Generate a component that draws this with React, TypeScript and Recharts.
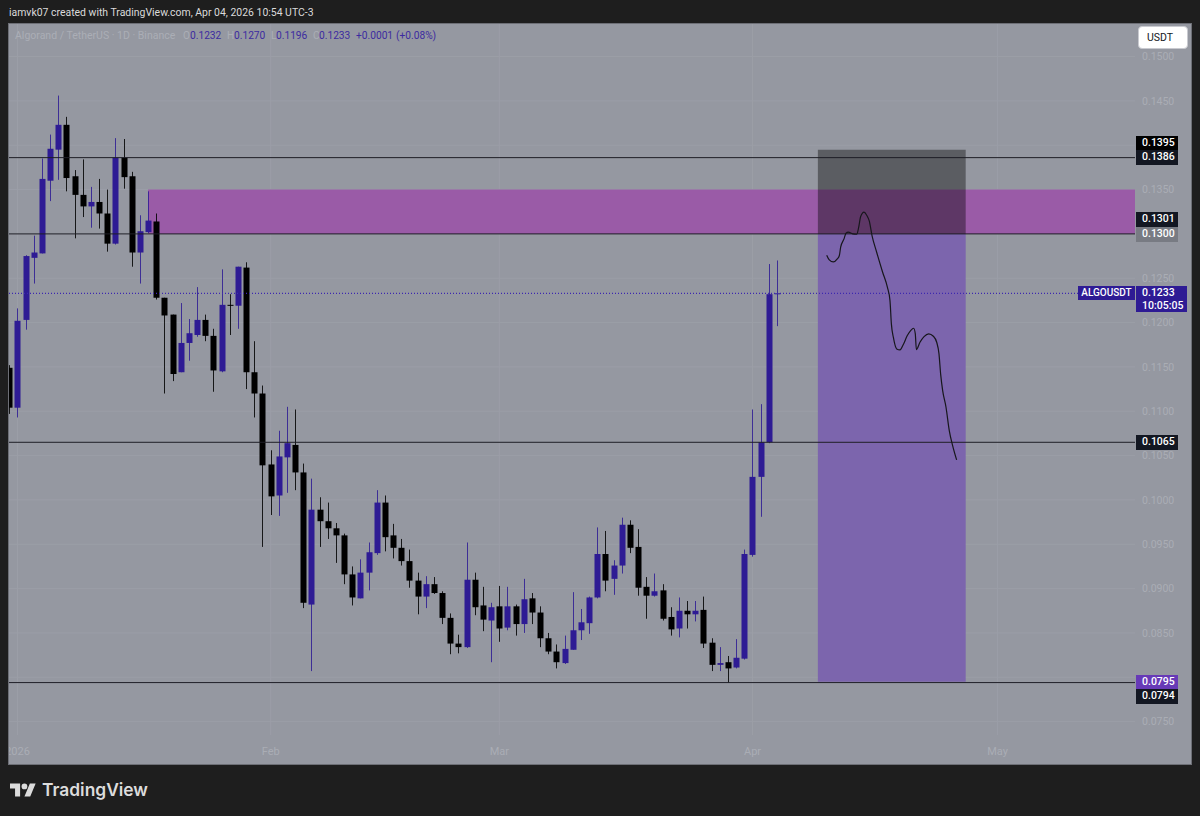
import { Bar, CartesianGrid, ComposedChart, Line, ReferenceArea, ReferenceLine, XAxis, YAxis } from 'recharts';

const opens = [
  0.1149, 0.1104, 0.1203, 0.1273, 0.1278, 0.136, 0.1395, 0.1423, 0.1365, 0.1344, 0.1331, 0.1336, 0.1323, 0.1289, 0.1386, 0.1365,
  0.1279, 0.1302, 0.1314, 0.1228, 0.1209, 0.1144, 0.1177, 0.1186, 0.1203, 0.1185, 0.1145, 0.122, 0.1219, 0.1262, 0.1144, 0.112,
  0.104, 0.1005, 0.1048, 0.1062, 0.1031, 0.0882, 0.0989, 0.0976, 0.0968, 0.096, 0.0916, 0.0889, 0.0918, 0.094, 0.0997, 0.096,
  0.0946, 0.0931, 0.0909, 0.0891, 0.0905, 0.0895, 0.0867, 0.0838, 0.0834, 0.091, 0.0881, 0.0864, 0.088, 0.0856, 0.088, 0.086,
  0.0889, 0.0873, 0.0844, 0.0829, 0.0816, 0.0831, 0.0853, 0.0861, 0.089, 0.0939, 0.0911, 0.0926, 0.0972, 0.0947, 0.0902, 0.0892,
  0.0898, 0.0868, 0.0855, 0.0875, 0.0871, 0.0876, 0.0839, 0.0814, 0.0817, 0.0811, 0.0821, 0.0938, 0.1026, 0.1065, 0.1232,
];
const highs = [
  0.1152, 0.1216, 0.1276, 0.1298, 0.1385, 0.1412, 0.1456, 0.1432, 0.1372, 0.1384, 0.1353, 0.1362, 0.135, 0.1408, 0.1407, 0.137,
  0.1321, 0.1348, 0.1323, 0.1228, 0.1209, 0.1222, 0.1204, 0.124, 0.1209, 0.1193, 0.126, 0.1232, 0.1263, 0.1268, 0.1179, 0.1129,
  0.1056, 0.1078, 0.1105, 0.1102, 0.1041, 0.1024, 0.1003, 0.0997, 0.0974, 0.0962, 0.0925, 0.0933, 0.0952, 0.1011, 0.1005, 0.0973,
  0.0956, 0.0944, 0.0918, 0.0914, 0.0913, 0.0897, 0.0872, 0.0848, 0.0952, 0.0918, 0.0902, 0.0884, 0.0903, 0.0902, 0.0882, 0.0911,
  0.0895, 0.088, 0.085, 0.0837, 0.0847, 0.0896, 0.0877, 0.0891, 0.0969, 0.0965, 0.0932, 0.098, 0.0977, 0.0967, 0.0913, 0.0917,
  0.0905, 0.0879, 0.089, 0.0886, 0.0886, 0.0891, 0.0844, 0.0834, 0.0824, 0.0843, 0.0944, 0.1102, 0.1108, 0.1266, 0.127,
];
const lows = [
  0.1097, 0.1093, 0.1192, 0.1244, 0.1278, 0.1337, 0.1361, 0.1348, 0.1295, 0.1319, 0.1307, 0.1306, 0.128, 0.1288, 0.1351, 0.1263,
  0.1244, 0.1301, 0.1226, 0.112, 0.1134, 0.1144, 0.1157, 0.1184, 0.1179, 0.1122, 0.1144, 0.1186, 0.1193, 0.1125, 0.1093, 0.0947,
  0.0983, 0.0982, 0.1008, 0.1011, 0.0878, 0.0807, 0.0947, 0.0956, 0.0929, 0.0905, 0.0881, 0.0889, 0.0898, 0.0938, 0.0942, 0.0934,
  0.0926, 0.0901, 0.0871, 0.0878, 0.0894, 0.086, 0.0826, 0.0827, 0.0833, 0.087, 0.0852, 0.0817, 0.084, 0.0853, 0.0847, 0.085,
  0.086, 0.0834, 0.0826, 0.081, 0.0815, 0.0831, 0.0842, 0.0849, 0.0889, 0.0897, 0.0893, 0.0917, 0.094, 0.0892, 0.0866, 0.0891,
  0.0864, 0.0847, 0.0845, 0.0855, 0.0863, 0.0833, 0.0807, 0.0807, 0.0794, 0.081, 0.082, 0.0936, 0.0981, 0.1064, 0.1196,
];
const closes = [
  0.1104, 0.1202, 0.1275, 0.1279, 0.1362, 0.1396, 0.1423, 0.1363, 0.1344, 0.1331, 0.1336, 0.1323, 0.1289, 0.1386, 0.1364, 0.1279,
  0.1303, 0.1315, 0.1228, 0.1208, 0.1142, 0.1177, 0.1188, 0.1203, 0.1185, 0.1146, 0.122, 0.1219, 0.1263, 0.1144, 0.112, 0.1039,
  0.1004, 0.1049, 0.1064, 0.1031, 0.0884, 0.0989, 0.0976, 0.0968, 0.096, 0.0916, 0.089, 0.0918, 0.0941, 0.0997, 0.0958, 0.0946,
  0.0931, 0.0909, 0.0891, 0.0905, 0.0895, 0.0867, 0.0838, 0.0834, 0.091, 0.0879, 0.0865, 0.0879, 0.0855, 0.088, 0.086, 0.0888,
  0.0873, 0.0844, 0.0829, 0.0817, 0.0832, 0.0853, 0.0862, 0.089, 0.0939, 0.0909, 0.0926, 0.0972, 0.0946, 0.0901, 0.0892, 0.0897,
  0.0866, 0.0854, 0.0875, 0.0871, 0.0875, 0.0838, 0.0814, 0.0816, 0.081, 0.0822, 0.0939, 0.1026, 0.1065, 0.1232, 0.1233,
];

// the hand drawn path, [day index, price]
const brushDays = [
  99.08, 99.4, 99.89, 100.38, 100.63, 100.79, 101.2, 101.44, 101.73, 102.26, 102.75, 103, 103.24, 103.65, 103.98, 104.3, 104.63, 105.2,
  105.93, 106.51, 106.83, 107, 107.24, 107.65, 108.06, 108.46, 108.95, 109.36, 109.73, 109.93, 110.06, 110.5, 111, 111.57, 112.14,
  112.55, 112.83, 113.03, 113.28, 113.69, 114.09, 114.5, 114.99,
];
const brushPrices = [
  0.1276, 0.12707, 0.12684, 0.12718, 0.12756, 0.1285, 0.12944, 0.13008, 0.13019, 0.13, 0.12996, 0.13075, 0.13196, 0.13245, 0.13211,
  0.13143, 0.12981, 0.12793, 0.12568, 0.12399, 0.12248, 0.11985, 0.11835, 0.11703, 0.11692, 0.11752, 0.11854, 0.1191, 0.11936, 0.11873,
  0.11696, 0.11778, 0.11842, 0.11873, 0.11846, 0.11778, 0.11647, 0.11421, 0.11233, 0.11045, 0.10782, 0.10613, 0.10452,
];

const priceTicks = [0.075, 0.08, 0.085, 0.09, 0.095, 0.1, 0.105, 0.11, 0.115, 0.12, 0.125, 0.13, 0.135, 0.14, 0.145, 0.15];
// these labels sit behind the price badges
const hiddenLabels = [0.08, 0.13, 0.14];
const monthTicks = [0, 31, 59, 90, 120];
const monthLabels = ['2026', 'Feb', 'Mar', 'Apr', 'May'];
const levels = [0.1386, 0.13, 0.1065, 0.0794];

const rows = opens.map((o, i) => ({
  x: i - 1,
  open: o,
  high: highs[i],
  low: lows[i],
  close: closes[i],
  range: [lows[i], highs[i]],
}));
const brushRows = brushDays.map((d, i) => ({ x: d, price: brushPrices[i] }));

const PURPLE = '#2e1b94';
const FONT = 'Roboto, sans-serif';

function Candle(props: any) {
  const { x, y, width, height, payload } = props;
  const cx = Math.round(x + width / 2);
  const color = payload.close >= payload.open ? PURPLE : '#000000';
  const perUnit = height / (payload.high - payload.low);
  const top = y + (payload.high - Math.max(payload.open, payload.close)) * perUnit;
  const bottom = y + (payload.high - Math.min(payload.open, payload.close)) * perUnit;
  return (
    <g>
      <rect x={cx} y={y} width={1} height={height} fill={color} fillOpacity={0.85} />
      <rect x={cx - 2.5} y={top} width={6} height={Math.max(bottom - top, 1)} fill={color} />
    </g>
  );
}

function Badge({ top, text, bg }: { top: number; text: string; bg: string }) {
  return (
    <div style={{ position: 'absolute', left: 1136, top, width: 42, height: 14.5, background: bg, color: '#fff', font: `500 10.5px/14.5px ${FONT}`, paddingLeft: 6, boxSizing: 'border-box' }}>
      {text}
    </div>
  );
}

function Txt({ left, top, color, size = 10.2, weight = 400, children }: any) {
  return <div style={{ position: 'absolute', left, top, color, font: `${weight} ${size}px/14px ${FONT}`, whiteSpace: 'nowrap' }}>{children}</div>;
}

export default function App() {
  return (
    <div style={{ position: 'fixed', left: 0, top: 0, width: 1200, height: 816, background: '#1e1e1e', overflow: 'hidden' }}>
      <Txt left={9} top={5.5} color="#dadada" size={10.45}>iamvk07 created with TradingView.com, Apr 04, 2026 10:54 UTC-3</Txt>

      <div style={{ position: 'absolute', left: 8, top: 23, width: 1184, height: 742, background: '#9598a1', border: '1px solid #6d6f76', boxSizing: 'border-box', overflow: 'hidden' }}>
        <div style={{ position: 'absolute', left: 0, top: 0 }}>
          <ComposedChart width={1182} height={740} data={rows} margin={{ top: 0, right: 0, bottom: 0, left: 0 }}>
            <CartesianGrid stroke="#9b9ea7" strokeWidth={1} horizontalValues={priceTicks} verticalValues={monthTicks} />
            <XAxis
              dataKey="x"
              type="number"
              domain={[-1.04, 136.83]}
              allowDataOverflow
              ticks={monthTicks}
              interval={0}
              height={29}
              axisLine={false}
              tickLine={false}
              tickMargin={6}
              tickFormatter={(v) => monthLabels[monthTicks.indexOf(v)]}
              tick={{ fill: '#aaadb5', fontSize: 11, fontFamily: FONT }}
            />
            <YAxis
              orientation="right"
              domain={[0.07349, 0.15367]}
              allowDataOverflow
              ticks={priceTicks}
              interval={0}
              width={56}
              axisLine={false}
              tickLine={false}
              tickSize={0}
              tickMargin={7}
              tickFormatter={(v) => (hiddenLabels.includes(v) ? '' : v.toFixed(4))}
              tick={{ fill: '#aaadb5', fontSize: 10.5, fontFamily: FONT, textAnchor: 'start' }}
            />
            <ReferenceArea x1={15.98} x2={136.83} y1={0.13} y2={0.135} fill="#9a5ba7" fillOpacity={1} stroke="none" />
            <ReferenceArea x1={98} x2={116.1} y1={0.0795} y2={0.13} fill="#7c65ad" fillOpacity={1} stroke="none" />
            <ReferenceArea x1={98} x2={116.1} y1={0.13} y2={0.1395} fill="#000000" fillOpacity={0.39} stroke="none" />
            {levels.map((l) => (
              <ReferenceLine key={l} y={l} stroke="#1e1e26" strokeWidth={1} />
            ))}
            <ReferenceLine y={0.1233} stroke="#3d28b0" strokeDasharray="1 2" strokeWidth={1.3} />
            <Bar dataKey="range" barSize={6} shape={<Candle />} isAnimationActive={false} />
            <Line data={brushRows} dataKey="price" type="monotone" dot={false} stroke="#17171c" strokeWidth={1.2} isAnimationActive={false} />
          </ComposedChart>
        </div>
      </div>

      <Txt left={15} top={28.5} color="#abaeb6" size={10.5}>Algorand / TetherUS · 1D · Binance</Txt>
      <Txt left={183} top={28.5} color="#abaeb6">O</Txt>
      <Txt left={190} top={28.5} color="#3c2ba0">0.1232</Txt>
      <Txt left={227} top={28.5} color="#abaeb6">H</Txt>
      <Txt left={234} top={28.5} color="#3c2ba0">0.1270</Txt>
      <Txt left={271} top={28.5} color="#abaeb6">L</Txt>
      <Txt left={276} top={28.5} color="#3c2ba0">0.1196</Txt>
      <Txt left={313} top={28.5} color="#abaeb6">C</Txt>
      <Txt left={319} top={28.5} color="#3c2ba0">0.1233</Txt>
      <Txt left={356} top={28.5} color="#3c2ba0">+0.0001</Txt>
      <Txt left={396} top={28.5} color="#3c2ba0">(+0.08%)</Txt>

      <div style={{ position: 'absolute', left: 1138, top: 26, width: 50, height: 23, background: '#fff', borderRadius: 4, boxSizing: 'border-box', border: '1px solid #c9cad0', color: '#131722', font: `400 10.5px/21px ${FONT}`, paddingLeft: 8 }}>USDT</div>

      <Badge top={136} text="0.1395" bg="#000000" />
      <Badge top={150} text="0.1386" bg="#131722" />
      <Badge top={212} text="0.1301" bg="#131722" />
      <Badge top={227} text="0.1300" bg="#787b83" />
      <Badge top={435} text="0.1065" bg="#131722" />
      <Badge top={674.5} text="0.0795" bg="#673ab7" />
      <Badge top={689} text="0.0794" bg="#131722" />

      <div style={{ position: 'absolute', left: 1078, top: 286, width: 57, height: 14, background: PURPLE, color: '#fff', font: `500 10px/14px ${FONT}`, textAlign: 'center' }}>ALGOUSDT</div>
      <div style={{ position: 'absolute', left: 1136, top: 286, width: 51, height: 26, background: PURPLE, color: '#fff', font: `500 10.5px/13px ${FONT}`, paddingLeft: 6, boxSizing: 'border-box' }}>
        0.1233
        <br />
        10:05:05
      </div>

      <svg style={{ position: 'absolute', left: 10, top: 783 }} width={26} height={14} viewBox="0 0 36 18">
        <path d="M14 18H7V7H0V0h14v18zM28 18h-8l7.5-18h8L28 18z" fill="#dcdcdc" />
        <circle cx="20" cy="4" r="4" fill="#dcdcdc" />
      </svg>
      <div style={{ position: 'absolute', left: 42, top: 778, color: '#dcdcdc', font: `600 17.4px/24px Inter, ${FONT}` }}>TradingView</div>
    </div>
  );
}
